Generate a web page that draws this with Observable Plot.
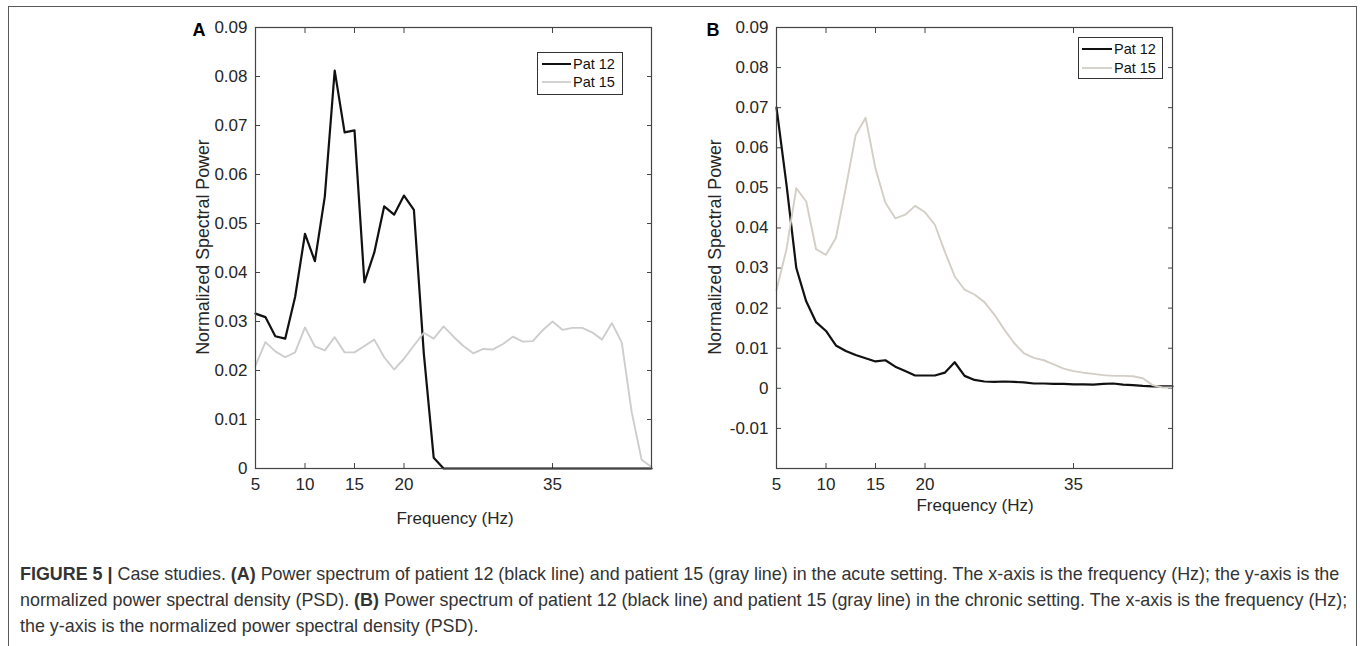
<!DOCTYPE html>
<html><head><meta charset="utf-8">
<script src="https://cdn.jsdelivr.net/npm/d3@7"></script>
<script src="https://cdn.jsdelivr.net/npm/@observablehq/plot@0.6"></script>
<style>
body{margin:0;background:#fff;font-family:"Liberation Sans",Arial,Helvetica,sans-serif;}
#fig{position:relative;width:1360px;height:646px;overflow:hidden;background:#fff;}
.border{position:absolute;left:8px;top:6px;width:1349px;height:660px;border:1.5px solid #5a5a5a;box-sizing:border-box;}
.panel{position:absolute;top:0;}
.ylab{position:absolute;transform:translate(-50%,-50%) rotate(-90deg);white-space:nowrap;font-size:17.8px;color:#262626;}
.xlab{position:absolute;transform:translate(-50%,-50%);white-space:nowrap;font-size:17px;color:#262626;}
.letter{position:absolute;font-weight:bold;font-size:18px;color:#000;transform:translate(-50%,-50%);}
.legend{position:absolute;border:1px solid #333;background:#fff;box-sizing:border-box;}
.legend svg{display:block;}
.caption{position:absolute;left:20px;top:561px;width:1330px;font-size:17.9px;line-height:26px;color:#333;white-space:nowrap;}
</style>
</head><body>
<div id="fig">
  <div class="border"></div>
  <div class="panel" id="pA" style="left:150px"></div>
  <div class="panel" id="pB" style="left:660px"></div>
  <div class="letter" style="left:199px;top:30px">A</div>
  <div class="letter" style="left:713px;top:30px">B</div>
  <div class="ylab" style="left:203px;top:247px">Normalized Spectral Power</div>
  <div class="ylab" style="left:715px;top:247px">Normalized Spectral Power</div>
  <div class="xlab" style="left:455px;top:519px">Frequency (Hz)</div>
  <div class="xlab" style="left:975px;top:506px">Frequency (Hz)</div>
  <div class="legend" id="legA" style="left:537px;top:52px;width:86px;height:43px"></div>
  <div class="legend" id="legB" style="left:1078px;top:37px;width:85px;height:42px"></div>
  <div class="caption"><b>FIGURE 5 |</b> Case studies. <b>(A)</b> Power spectrum of patient 12 (black line) and patient 15 (gray line) in the acute setting. The x-axis is the frequency (Hz); the y-axis is the<br>normalized power spectral density (PSD). <b>(B)</b> Power spectrum of patient 12 (black line) and patient 15 (gray line) in the chronic setting. The x-axis is the frequency (Hz);<br>the y-axis is the normalized power spectral density (PSD).</div>
</div>
<script>
// ---- data ----
const freq = [5,6,7,8,9,10,11,12,13,14,15,16,17,18,19,20,21,22,23,24,25,26,27,28,29,30,31,32,33,34,35,36,37,38,39,40,41,42,43,44,45];
const seriesNames = ["Pat 12","Pat 15"];
const acutePat12 = [0.0316,0.0309,0.0270,0.0265,0.0350,0.0479,0.0423,0.0555,0.0812,0.0686,0.0690,0.0380,0.0441,0.0535,0.0518,0.0557,0.0528,0.0235,0.0022,0,0,0,0,0,0,0,0,0,0,0,0,0,0,0,0,0,0,0,0,0,0];
const acutePat15 = [0.0210,0.0258,0.0239,0.0227,0.0237,0.0288,0.0249,0.0241,0.0268,0.0237,0.0237,0.0250,0.0263,0.0227,0.0202,0.0224,0.0251,0.0277,0.0265,0.0290,0.0269,0.0250,0.0235,0.0244,0.0243,0.0254,0.0269,0.0259,0.0260,0.0282,0.0300,0.0283,0.0287,0.0287,0.0278,0.0263,0.0297,0.0257,0.0115,0.0018,0.0003];
const chronicPat12 = [0.0700,0.0510,0.0300,0.0217,0.0165,0.0143,0.0107,0.0093,0.0083,0.0075,0.0067,0.0070,0.0054,0.0043,0.0032,0.0032,0.0032,0.0039,0.0065,0.0031,0.0021,0.0017,0.0016,0.0017,0.0016,0.0015,0.0012,0.0012,0.0011,0.0011,0.0010,0.0010,0.0009,0.0011,0.0012,0.0009,0.0008,0.0006,0.0005,0.0005,0.0005];
const chronicPat15 = [0.0245,0.0346,0.0499,0.0466,0.0347,0.0333,0.0375,0.0500,0.0632,0.0675,0.0548,0.0463,0.0424,0.0433,0.0455,0.0439,0.0408,0.0341,0.0279,0.0246,0.0234,0.0215,0.0184,0.0147,0.0113,0.0087,0.0076,0.0070,0.0060,0.0049,0.0043,0.0039,0.0036,0.0033,0.0031,0.0031,0.0030,0.0025,0.0008,0.0002,0.0002];
const xTicks = [5,10,15,20,35];
const yTicksA = [0,0.01,0.02,0.03,0.04,0.05,0.06,0.07,0.08,0.09];
const yTicksB = [-0.01,0,0.01,0.02,0.03,0.04,0.05,0.06,0.07,0.08,0.09];
const yDomainA = [0,0.09];
const yDomainB = [-0.02,0.09];
const xDomain = [5,45];

const colors = {A: ["#111111","#cdcdcd"], B: ["#111111","#d3cfc7"]};

function rows(vals, name){ return freq.map((f,i)=>({f, v: vals[i], s: name})); }
const fmt = d => d === 0 ? "0" : d.toFixed(2);
const blank = () => "";

function makePanel({p12, p15, yDomain, yTicks, width, ml, mr, cols}){
  const axisCol = "#262626";
  return Plot.plot({
    width, height: 540,
    marginLeft: ml, marginRight: mr, marginTop: 27, marginBottom: 72,
    x: {domain: xDomain},
    y: {domain: yDomain},
    style: {fontFamily: "Liberation Sans, Arial, sans-serif", fontSize: "17px", color: axisCol, background: "transparent"},
    marks: [
      Plot.axisX(xTicks, {anchor: "bottom", tickSize: 0, tickPadding: 9, label: null, fontSize: 17}),
      Plot.axisX(xTicks, {anchor: "bottom", tickSize: -5, tickFormat: blank, label: null, stroke: "#444"}),
      Plot.axisX(xTicks, {anchor: "top", tickSize: -5, tickFormat: blank, label: null, stroke: "#444"}),
      Plot.axisY(yTicks, {anchor: "left", tickSize: 0, tickPadding: 8, tickFormat: fmt, label: null, fontSize: 17}),
      Plot.axisY(yTicks, {anchor: "left", tickSize: -5, tickFormat: blank, label: null, stroke: "#444"}),
      Plot.axisY(yTicks, {anchor: "right", tickSize: -5, tickFormat: blank, label: null, stroke: "#444"}),
      Plot.line(rows(p12, seriesNames[0]), {x: "f", y: "v", stroke: cols[0], strokeWidth: 2.2}),
      Plot.line(rows(p15, seriesNames[1]), {x: "f", y: "v", stroke: cols[1], strokeWidth: 1.9}),
      Plot.frame({stroke: "#444", strokeWidth: 1.2})
    ]
  });
}

document.getElementById("pA").appendChild(makePanel({p12: acutePat12, p15: acutePat15, yDomain: yDomainA, yTicks: yTicksA, width: 520, ml: 105, mr: 19, cols: colors.A}));
document.getElementById("pB").appendChild(makePanel({p12: chronicPat12, p15: chronicPat15, yDomain: yDomainB, yTicks: yTicksB, width: 540, ml: 116, mr: 28, cols: colors.B}));

function legend(id, cols, w, rowY, lineX0, lineX1){
  const el = document.getElementById(id);
  const ns = "http://www.w3.org/2000/svg";
  const svg = document.createElementNS(ns, "svg");
  svg.setAttribute("width", w); svg.setAttribute("height", 40);
  seriesNames.forEach((n, i) => {
    const l = document.createElementNS(ns, "line");
    l.setAttribute("x1", lineX0); l.setAttribute("x2", lineX1);
    l.setAttribute("y1", rowY[i]); l.setAttribute("y2", rowY[i]);
    l.setAttribute("stroke", cols[i]); l.setAttribute("stroke-width", i === 0 ? 2 : 1.8);
    svg.appendChild(l);
    const t = document.createElementNS(ns, "text");
    t.setAttribute("x", lineX1 + 2); t.setAttribute("y", rowY[i]);
    t.setAttribute("dy", "0.35em");
    t.setAttribute("font-size", "14.5px");
    t.setAttribute("font-family", "Liberation Sans, Arial, sans-serif");
    t.setAttribute("fill", "#111");
    t.textContent = n;
    svg.appendChild(t);
  });
  el.appendChild(svg);
}
legend("legA", colors.A, 84, [11, 29], 4, 33);
legend("legB", colors.B, 83, [11, 30], 3, 33);
</script>
</body></html>
